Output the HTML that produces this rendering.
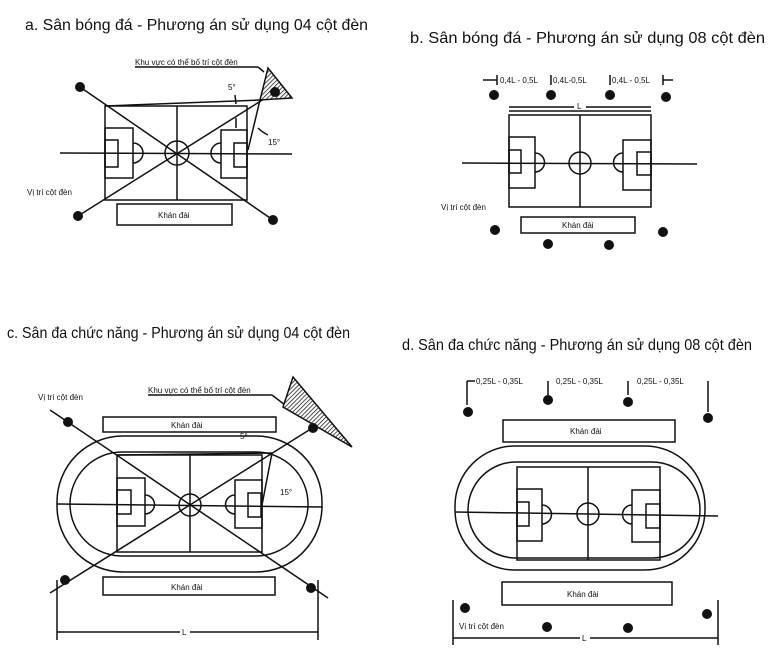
<!DOCTYPE html>
<html><head><meta charset="utf-8"><style>
html,body{margin:0;padding:0;background:#fff;}
svg{display:block;}
text{font-family:"Liberation Sans",sans-serif;fill:#111;}
.t{font-size:16px;}
.s{font-size:8px;}
</style></head><body>
<svg width="770" height="667" viewBox="0 0 770 667" xmlns="http://www.w3.org/2000/svg">
<defs>
<pattern id="h" width="3" height="3" patternUnits="userSpaceOnUse" patternTransform="rotate(45)">
<rect width="3" height="3" fill="#fff"/><line x1="0" y1="0" x2="0" y2="3" stroke="#222" stroke-width="1.6"/></pattern>
</defs>
<g stroke="#111" stroke-width="1.5" fill="none">
<!-- Panel a -->
<rect x="105" y="106" width="142" height="94"/>
<line x1="177" y1="106" x2="177" y2="200"/>
<line x1="60" y1="153" x2="292" y2="154"/>
<circle cx="177" cy="153" r="12"/>
<rect x="105" y="128" width="28" height="50"/><rect x="105" y="140" width="13" height="27"/>
<path d="M133 143 A10 10 0 0 1 133 163"/>
<rect x="221" y="130" width="26" height="48"/><rect x="234" y="143" width="13" height="24"/>
<path d="M221 143 A10 10 0 0 0 221 163"/>
<line x1="80" y1="87" x2="273" y2="220"/>
<line x1="78" y1="216" x2="275" y2="92"/>
<line x1="260" y1="100" x2="248" y2="150"/>
<line x1="105" y1="106" x2="260" y2="100"/>
<path d="M235 95 L236 104 M236 118 L236 128 M258 128 Q262 132 268 135"/>
<line x1="135" y1="67" x2="258" y2="67"/><line x1="258" y1="67" x2="264" y2="72"/>
<polygon points="268,68 292,98 260,100" fill="url(#h)"/>
<rect x="117" y="204" width="115" height="21"/>
<!-- Panel b -->
<rect x="509" y="115" width="142" height="92"/>
<line x1="509" y1="111" x2="651" y2="111"/>
<line x1="580" y1="115" x2="580" y2="207"/>
<line x1="462" y1="163" x2="697" y2="164"/>
<circle cx="580" cy="163" r="11"/>
<rect x="509" y="137" width="26" height="51"/><rect x="509" y="150" width="12" height="23"/>
<path d="M535 153 A9 9 0 0 1 535 172"/>
<rect x="623" y="140" width="28" height="50"/><rect x="637" y="152" width="14" height="23"/>
<path d="M623 153 A9 9 0 0 0 623 172"/>
<line x1="509" y1="107" x2="574" y2="107"/><line x1="586" y1="107" x2="651" y2="107"/>
<line x1="483" y1="80" x2="497" y2="80"/><line x1="497" y1="75" x2="497" y2="85"/>
<line x1="551" y1="75" x2="551" y2="85"/><line x1="610" y1="75" x2="610" y2="85"/>
<line x1="663" y1="75" x2="663" y2="85"/><line x1="663" y1="80" x2="673" y2="80"/>
<rect x="521" y="217" width="114" height="16"/>
<!-- Panel c -->
<rect x="57" y="436" width="265" height="136" rx="66"/>
<rect x="70" y="452" width="238" height="104" rx="52"/>
<rect x="117" y="455" width="145" height="97"/>
<line x1="190" y1="455" x2="190" y2="552"/>
<line x1="57" y1="504" x2="322" y2="507"/>
<circle cx="190" cy="505" r="11"/>
<rect x="117" y="478" width="28" height="48"/><rect x="117" y="490" width="14" height="24"/>
<path d="M145 495 A9 9 0 0 1 145 514"/>
<rect x="235" y="480" width="27" height="48"/><rect x="248" y="493" width="13" height="24"/>
<path d="M235 495 A9 9 0 0 0 235 514"/>
<line x1="50" y1="410" x2="328" y2="598"/>
<line x1="50" y1="593" x2="325" y2="420"/>
<line x1="117" y1="455" x2="272" y2="453"/>
<line x1="272" y1="453" x2="262" y2="505"/>
<line x1="148" y1="395" x2="272" y2="395"/><line x1="272" y1="395" x2="285" y2="405"/>
<polygon points="293,377 352,447 283,407" fill="url(#h)"/>
<rect x="103" y="417" width="173" height="15"/>
<rect x="103" y="577" width="172" height="18"/>
<line x1="57" y1="580" x2="57" y2="640"/><line x1="318" y1="580" x2="318" y2="640"/>
<line x1="57" y1="632" x2="180" y2="632"/><line x1="190" y1="632" x2="318" y2="632"/>
<!-- Panel d -->
<rect x="455" y="446" width="250" height="124" rx="60"/>
<rect x="468" y="462" width="232" height="96" rx="48"/>
<rect x="517" y="467" width="143" height="93"/>
<line x1="588" y1="467" x2="588" y2="560"/>
<line x1="455" y1="512" x2="718" y2="516"/>
<circle cx="588" cy="514" r="11"/>
<rect x="517" y="489" width="25" height="52"/><rect x="517" y="502" width="12" height="24"/>
<path d="M542 505 A9 9 0 0 1 542 524"/>
<rect x="632" y="490" width="28" height="52"/><rect x="646" y="504" width="14" height="24"/>
<path d="M632 505 A9 9 0 0 0 632 524"/>
<line x1="467" y1="381" x2="467" y2="405"/>
<line x1="548" y1="381" x2="548" y2="395"/><line x1="628" y1="381" x2="628" y2="395"/>
<line x1="708" y1="381" x2="708" y2="412"/>
<line x1="467" y1="381" x2="475" y2="381"/>
<rect x="503" y="420" width="172" height="22"/>
<rect x="502" y="582" width="170" height="23"/>
<line x1="453" y1="600" x2="453" y2="645"/><line x1="718" y1="600" x2="718" y2="645"/>
<line x1="453" y1="638" x2="580" y2="638"/><line x1="590" y1="638" x2="718" y2="638"/>
</g>
<g fill="#111">
<circle cx="80" cy="87" r="5"/><circle cx="275" cy="92" r="5"/><circle cx="78" cy="216" r="5"/><circle cx="273" cy="220" r="5"/>
<circle cx="494" cy="95" r="5"/><circle cx="551" cy="95" r="5"/><circle cx="610" cy="95" r="5"/><circle cx="666" cy="97" r="5"/>
<circle cx="495" cy="230" r="5"/><circle cx="663" cy="232" r="5"/><circle cx="548" cy="244" r="5"/><circle cx="609" cy="245" r="5"/>
<circle cx="68" cy="422" r="5"/><circle cx="313" cy="428" r="5"/><circle cx="65" cy="580" r="5"/><circle cx="311" cy="588" r="5"/>
<circle cx="468" cy="412" r="5"/><circle cx="548" cy="400" r="5"/><circle cx="628" cy="402" r="5"/><circle cx="708" cy="418" r="5"/>
<circle cx="465" cy="608" r="5"/><circle cx="707" cy="614" r="5"/><circle cx="547" cy="627" r="5"/><circle cx="628" cy="628" r="5"/>
</g>
<text class="t" x="25" y="30" textLength="343" lengthAdjust="spacingAndGlyphs">a. Sân bóng đá - Phương án sử dụng 04 cột đèn</text>
<text class="t" x="410" y="43" textLength="355" lengthAdjust="spacingAndGlyphs">b. Sân bóng đá - Phương án sử dụng 08 cột đèn</text>
<text class="t" x="7" y="338" textLength="343" lengthAdjust="spacingAndGlyphs">c. Sân đa chức năng - Phương án sử dụng 04 cột đèn</text>
<text class="t" x="402" y="350" textLength="350" lengthAdjust="spacingAndGlyphs">d. Sân đa chức năng - Phương án sử dụng 08 cột đèn</text>
<text class="s" x="135" y="65">Khu vực có thể bố trí cột đèn</text>
<text class="s" x="228" y="90">5°</text>
<text class="s" x="268" y="145">15°</text>
<text class="s" x="27" y="195">Vị trí cột đèn</text>
<text class="s" x="158" y="218">Khán đài</text>
<text class="s" x="500" y="83">0,4L - 0,5L</text>
<text class="s" x="553" y="83">0,4L-0,5L</text>
<text class="s" x="612" y="83">0,4L - 0,5L</text>
<text class="s" x="577" y="109">L</text>
<text class="s" x="441" y="210">Vị trí cột đèn</text>
<text class="s" x="562" y="228">Khán đài</text>
<text class="s" x="38" y="400">Vị trí cột đèn</text>
<text class="s" x="148" y="393">Khu vực có thể bố trí cột đèn</text>
<text class="s" x="171" y="428">Khán đài</text>
<text class="s" x="240" y="439">5°</text>
<text class="s" x="280" y="495">15°</text>
<text class="s" x="171" y="590">Khán đài</text>
<text class="s" x="182" y="635">L</text>
<text class="s" x="476" y="384">0,25L - 0,35L</text>
<text class="s" x="556" y="384">0,25L - 0,35L</text>
<text class="s" x="637" y="384">0,25L - 0,35L</text>
<text class="s" x="570" y="434">Khán đài</text>
<text class="s" x="567" y="597">Khán đài</text>
<text class="s" x="459" y="629">Vị trí cột đèn</text>
<text class="s" x="582" y="641">L</text>
</svg>
</body></html>
